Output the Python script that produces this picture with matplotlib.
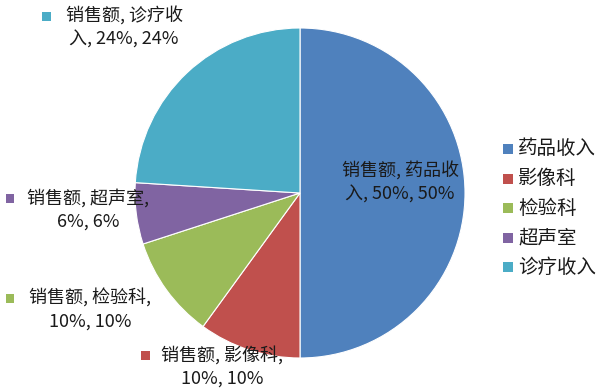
import matplotlib
matplotlib.use("Agg")
import matplotlib.pyplot as plt
from matplotlib.patches import Rectangle

plt.rcParams['font.family'] = ['Noto Sans CJK SC', 'DejaVu Sans']

series_name = "销售额"
categories = ["药品收入", "影像科", "检验科", "超声室", "诊疗收入"]
values = [50, 10, 10, 6, 24]
colors = ["#4F81BD", "#C0504D", "#9BBB59", "#8064A2", "#4BACC6"]

W, H = 606, 392
fig = plt.figure(figsize=(W / 100, H / 100), dpi=100)
fig.patch.set_facecolor("white")

# pie axes: centre (300, 193) px, radius 165 px
cx, cy, r = 300, 193, 165
ax = fig.add_axes([(cx - r) / W, (H - cy - r) / H, 2 * r / W, 2 * r / H])
ax.pie(values, colors=colors, startangle=90, counterclock=False,
       radius=1.0, wedgeprops=dict(edgecolor="white", linewidth=0.8))
ax.set_xlim(-1, 1)
ax.set_ylim(-1, 1)
ax.set_aspect("equal")
ax.axis("off")

txt_color = "#1a1a1a"
fs = 13.0


def fx(x):
    return x / W


def fy(y):
    return 1 - y / H


total = sum(values)
# data labels: (block centre x, line-1 y, marker x or None, wrapped text or None)
label_layout = {
    "药品收入": (400, 171, None, ("销售额, 药品收", "入, ")),
    "影像科": (222, 355, 145, None),
    "检验科": (90, 298, 10, None),
    "超声室": (88, 198, 10, None),
    "诊疗收入": (124, 16, 46, ("销售额, 诊疗收", "入, ")),
}

for cat, val, col in zip(categories, values, colors):
    pct = f"{round(100 * val / total)}%"
    vtxt = f"{val}%"
    bx, by, mx, split = label_layout[cat]
    if split is None:
        line1 = f"{series_name}, {cat},"
        line2 = f"{vtxt}, {pct}"
    else:
        line1 = split[0]
        line2 = f"{split[1]}{vtxt}, {pct}"
    fig.text(fx(bx), fy(by), line1, ha="center", va="center",
             fontsize=fs, color=txt_color)
    fig.text(fx(bx), fy(by + 24), line2, ha="center", va="center",
             fontsize=fs, color=txt_color)
    if mx is not None:
        s = 9
        fig.add_artist(Rectangle((fx(mx - s / 2), fy(by + s / 2)), s / W, s / H,
                                 transform=fig.transFigure, facecolor=col,
                                 edgecolor="none"))

# legend
leg_y0, leg_dy = 149, 29.6
for i, (cat, col) in enumerate(zip(categories, colors)):
    y = leg_y0 + i * leg_dy
    s = 10
    fig.add_artist(Rectangle((fx(508 - s / 2), fy(y + s / 2)), s / W, s / H,
                             transform=fig.transFigure, facecolor=col,
                             edgecolor="none"))
    fig.text(fx(518), fy(y), cat, ha="left", va="center",
             fontsize=14.0, color=txt_color)

fig.savefig("out.png", dpi=100, facecolor="white")
